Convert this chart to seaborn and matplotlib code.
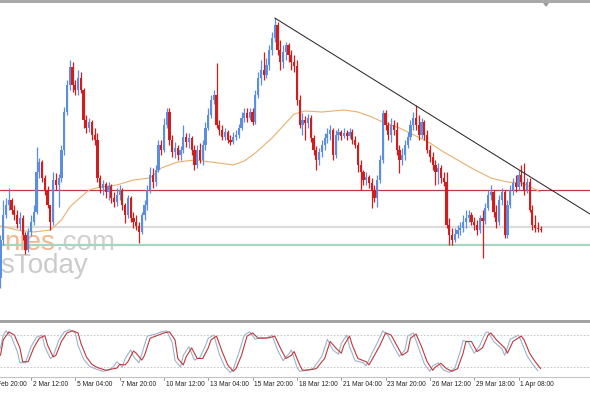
import numpy as np
import pandas as pd
import matplotlib
matplotlib.use("Agg")
import matplotlib.pyplot as plt
import seaborn as sns
from matplotlib.patches import Rectangle, Polygon
from matplotlib.transforms import blended_transform_factory

# ---------------- data (H4 candles, price in chart points) ----------------
first_open = 122
closes = [160, 185, 195, 200, 190, 185, 176, 182, 165, 150, 168, 178, 188, 228, 238, 222, 210, 195, 178, 220,
          215, 222, 250, 288, 315, 333, 315, 310, 322, 310, 280, 272, 278, 265, 260, 222, 212, 216, 208, 214,
          202, 198, 205, 210, 195, 185, 202, 182, 178, 174, 168, 185, 195, 210, 225, 218, 230, 255, 250, 275,
          288, 260, 248, 252, 245, 250, 263, 258, 262, 250, 235, 250, 240, 255, 272, 285, 300, 305, 275, 270,
          263, 268, 260, 258, 263, 265, 272, 282, 287, 282, 288, 278, 305, 322, 330, 325, 335, 350, 362, 375,
          350, 338, 348, 355, 345, 338, 334, 300, 275, 280, 277, 282, 262, 250, 240, 248, 255, 262, 266, 270,
          245, 265, 268, 264, 267, 264, 268, 260, 255, 235, 228, 220, 223, 217, 210, 202, 220, 240, 287, 275,
          265, 275, 270, 250, 240, 245, 255, 263, 275, 282, 275, 265, 278, 265, 250, 243, 235, 228, 232, 222,
          218, 175, 165, 160, 166, 170, 172, 178, 182, 185, 178, 175, 170, 182, 179, 192, 205, 208, 188, 178,
          200, 208, 165, 195, 210, 217, 213, 225, 218, 210, 218, 190, 175, 172, 171, 170]
highs = [165, 200, 202, 212, 202, 195, 190, 188, 185, 168, 172, 185, 195, 253, 242, 240, 225, 214, 195, 228,
         227, 226, 255, 293, 320, 340, 338, 320, 330, 328, 312, 285, 282, 280, 272, 267, 225, 220, 218, 218,
         216, 208, 212, 215, 212, 197, 205, 204, 188, 185, 178, 188, 200, 215, 233, 232, 235, 260, 260, 282,
         292, 292, 265, 258, 255, 254, 275, 267, 267, 264, 255, 255, 257, 260, 278, 292, 305, 310, 337, 280,
         275, 272, 270, 265, 268, 270, 276, 288, 292, 292, 292, 292, 310, 328, 340, 348, 342, 355, 368, 382,
         378, 360, 355, 358, 357, 350, 345, 340, 305, 287, 284, 286, 285, 265, 254, 252, 260, 267, 272, 275,
         272, 270, 272, 270, 272, 270, 272, 271, 264, 258, 240, 230, 228, 225, 222, 215, 225, 245, 290, 290,
         278, 282, 280, 278, 255, 252, 260, 268, 280, 288, 295, 285, 282, 280, 270, 255, 248, 240, 237, 235,
         228, 228, 182, 172, 172, 175, 178, 185, 190, 190, 188, 183, 180, 185, 190, 197, 210, 215, 210, 195,
         205, 212, 210, 200, 215, 222, 225, 230, 235, 237, 222, 222, 195, 185, 178, 174]
lows = [112, 155, 182, 190, 186, 180, 172, 170, 160, 146, 148, 164, 175, 186, 222, 218, 205, 192, 170, 175,
        210, 193, 218, 245, 285, 310, 308, 305, 305, 307, 272, 267, 268, 260, 255, 218, 207, 205, 202, 200,
        197, 193, 194, 200, 190, 177, 182, 178, 172, 170, 157, 166, 180, 190, 207, 212, 214, 228, 245, 248,
        272, 255, 243, 242, 240, 240, 247, 253, 252, 245, 230, 232, 237, 235, 250, 270, 282, 296, 272, 265,
        260, 260, 257, 255, 256, 260, 262, 270, 278, 278, 280, 275, 276, 302, 315, 320, 322, 330, 345, 358,
        345, 330, 332, 340, 338, 330, 328, 295, 272, 265, 260, 272, 258, 245, 230, 235, 243, 250, 257, 260,
        240, 242, 260, 260, 262, 260, 262, 256, 252, 228, 210, 215, 215, 212, 192, 198, 193, 217, 237, 270,
        260, 258, 265, 245, 227, 235, 240, 252, 260, 270, 270, 260, 262, 260, 247, 238, 230, 215, 216, 217,
        214, 172, 155, 155, 158, 162, 165, 168, 172, 178, 175, 170, 165, 167, 142, 176, 190, 200, 183, 172,
        175, 195, 162, 162, 192, 205, 208, 210, 214, 205, 207, 188, 170, 168, 168, 168]

# moving average read at sample bars
ma_bars = [0, 6, 12, 18, 22, 25, 29, 32, 36, 42, 48, 54, 58, 64, 70, 76, 84, 88, 92, 98, 103, 106, 110,
           116, 124, 129, 134, 138, 144, 150, 155, 160, 165, 170, 177, 183, 188, 192, 195]
ma_vals = [174, 170, 168, 170, 180, 193, 203, 210, 213, 215, 220, 222, 232, 238, 240, 238, 235, 239, 247,
           262, 277, 286, 289, 288, 290, 288, 283, 278, 272, 264, 257, 248, 240, 232, 222, 218, 217, 212, 208]

# horizontal levels and trend line
level_red = 210
level_gray = 173
level_green = 155
trend_bars = [99, 212.8]
trend_prices = [382, 186]

# stochastic oscillator (main and signal), read at sample bars
stoch_main_bars = [0, 1, 3, 5, 7, 8, 10, 12, 14, 16, 17, 19, 20, 22, 24, 26, 28, 29, 31, 33, 35, 38, 40, 42,
                   43, 45, 46, 48, 49, 51, 52, 54, 57, 59, 61, 63, 64, 66, 67, 69, 71, 73, 75, 76, 78, 80, 82,
                   84, 85, 87, 89, 91, 93, 95, 97, 99, 101, 103, 105, 106, 108, 109, 112, 114, 117, 119, 121,
                   123, 124, 126, 127, 129, 132, 133, 135, 137, 139, 141, 143, 145, 147, 148, 150, 152, 154,
                   156, 157, 159, 161, 163, 165, 167, 168, 170, 172, 174, 176, 177, 179, 182, 183, 185, 188,
                   189, 191, 193, 195]
stoch_main = [42, 71, 86, 80, 56, 30, 30, 56, 74, 79, 61, 39, 42, 68, 84, 88, 84, 65, 39, 25, 19, 14, 16, 18,
              25, 24, 30, 50, 46, 33, 42, 74, 80, 84, 86, 71, 36, 24, 39, 56, 36, 36, 56, 71, 78, 49, 24,
              12, 17, 42, 78, 84, 74, 74, 75, 78, 56, 36, 42, 49, 24, 14, 15, 17, 36, 68, 56,
              46, 61, 78, 61, 36, 30, 24, 42, 61, 84, 80, 61, 42, 49, 74, 82, 58, 30,
              14, 20, 27, 17, 12, 17, 46, 68, 68, 49, 56, 80, 84, 71, 56, 46, 68, 78,
              71, 46, 30, 17]
stoch_sig_bars = [0, 1, 2, 4, 6, 7, 9, 11, 13, 15, 16, 18, 19, 21, 23, 25, 27, 28, 30, 32, 34, 37, 39, 41,
                  42, 44, 45, 47, 48, 50, 51, 53, 56, 58, 60, 62, 63, 65, 66, 68, 70, 72, 74, 75, 77, 79, 81,
                  83, 84, 86, 88, 90, 92, 94, 96, 98, 100, 102, 104, 105, 107, 108, 111, 113, 116, 118, 120,
                  122, 123, 125, 126, 128, 131, 132, 134, 136, 138, 140, 142, 144, 146, 147, 149, 151, 153,
                  155, 156, 158, 160, 162, 164, 166, 167, 169, 171, 173, 175, 176, 178, 181, 182, 184, 187,
                  188, 190, 192, 194]
stoch_sig = [55, 80, 88, 76, 50, 28, 28, 58, 76, 80, 58, 36, 40, 70, 86, 90, 84, 60, 35, 22, 17, 12, 14, 22,
             30, 20, 36, 52, 40, 28, 45, 78, 82, 86, 88, 66, 32, 20, 42, 58, 33, 38, 60, 74, 80, 44, 20,
             10, 16, 46, 80, 86, 72, 76, 74, 80, 52, 32, 44, 52, 20, 12, 14, 18, 40, 72, 52,
             44, 64, 80, 58, 32, 28, 22, 45, 65, 88, 78, 58, 40, 52, 78, 84, 55, 26,
             12, 22, 28, 14, 10, 18, 50, 70, 66, 46, 60, 84, 86, 68, 54, 42, 72, 80,
             68, 42, 26, 13]
stoch_levels = [80, 20]

label_bars = [-5, 11, 27, 43, 59, 75, 91, 107, 123, 139, 155, 171, 187]
label_texts = ["28 Feb 20:00", "2 Mar 12:00", "5 Mar 04:00", "7 Mar 20:00", "10 Mar 12:00",
               "13 Mar 04:00", "15 Mar 20:00", "18 Mar 12:00", "21 Mar 04:00", "23 Mar 20:00",
               "26 Mar 12:00", "29 Mar 18:00", "1 Apr 08:00"]

# ---------------- build tables ----------------
df = pd.DataFrame({"close": closes, "high": highs, "low": lows})
df["open"] = [first_open] + closes[:-1]
df["bar"] = np.arange(len(df))
ma_df = pd.DataFrame({"bar": ma_bars, "ma": ma_vals})
st_main = pd.DataFrame({"bar": stoch_main_bars, "v": stoch_main})
st_sig = pd.DataFrame({"bar": stoch_sig_bars, "v": stoch_sig})

# ---------------- figure ----------------
sns.set_theme(style="white")
plt.rcParams["font.family"] = ["Liberation Sans", "DejaVu Sans"]

W, H = 590, 393
fig = plt.figure(figsize=(W / 100, H / 100), dpi=100)
fig.patch.set_facecolor("white")

ax = fig.add_axes([0, 74 / H, 1, 316 / H])
ax2 = fig.add_axes([0, 16 / H, 1, 54 / H])

xlim = (-0.18, 212.8)
BLUE = "#5b8de0"
RED = "#d41c1c"

# watermark
wm_kw = dict(transform=ax.transAxes, fontsize=20, va="baseline", zorder=1, clip_on=True)
ax.text(55 / W, (319 - 250) / 316, "nies", ha="right", color="#f4b68e", **wm_kw)
ax.text(55 / W, (319 - 250) / 316, ".com", ha="left", color="#d0d0d0", **wm_kw)
ax.text(0 / W, (319 - 273) / 316, "sToday", ha="left", color="#cbcbcb", **wm_kw)

# levels
ax.axhline(level_gray, color="#dcdcdc", lw=1.6, zorder=1.5)
ax.axhline(level_green, color="#a8d5c2", lw=1.6, zorder=1.5)
ax.axhline(level_red, color="#c4393d", lw=0.9, zorder=1.6)

# moving average
sns.lineplot(data=ma_df, x="bar", y="ma", ax=ax, color="#e8b06e", linewidth=0.8, zorder=2)

# candles
up = df["close"] >= df["open"]
cols = np.where(up, BLUE, RED)
bottoms = np.minimum(df["open"], df["close"])
heights = np.maximum((df["close"] - df["open"]).abs(), 0.9)
ax.vlines(df["bar"], df["low"], df["high"], colors=cols, lw=0.9, zorder=3)
ax.bar(df["bar"], heights, bottom=bottoms, width=0.8, color=cols, linewidth=0, zorder=4)

# trend line
ax.plot(trend_bars, trend_prices, color="#2a2a2a", lw=0.75, zorder=5)

ax.set_xlim(*xlim)
ax.set_ylim(81, 397)
ax.set_xticks([]); ax.set_yticks([])
ax.set_xlabel(""); ax.set_ylabel("")
for s in ax.spines.values():
    s.set_visible(False)

# stochastic
for lv in stoch_levels:
    ax2.axhline(lv, color="#bdbdbd", lw=0.6, ls=(0, (2, 2)), zorder=1)
sns.lineplot(data=st_sig, x="bar", y="v", ax=ax2, color="#9db3cb", linewidth=0.8, zorder=2)
sns.lineplot(data=st_main, x="bar", y="v", ax=ax2, color="#c0383c", linewidth=0.8, zorder=3)
ax2.set_xlim(*xlim)
ax2.set_ylim(1.3, 102.6)
ax2.set_xticks([]); ax2.set_yticks([])
ax2.set_xlabel(""); ax2.set_ylabel("")
for k, s in ax2.spines.items():
    s.set_visible(k == "bottom")
ax2.spines["bottom"].set_color("#c4c4c4")
ax2.spines["bottom"].set_linewidth(0.8)

# time labels and ticks
tr = blended_transform_factory(ax2.transData, fig.transFigure)
for b, t in zip(label_bars, label_texts):
    ax2.plot([b, b], [1 - 377 / H, 1 - 380 / H], transform=tr, color="#8a8a8a", lw=0.6, clip_on=False)
    ax2.text(b + 0.6, 1 - 381 / H, t, transform=tr, ha="left", va="top", fontsize=4.8,
             color="#222222", clip_on=False)

# frame bands
fig.add_artist(Rectangle((0, 1 - 3 / H), 1, 3 / H, transform=fig.transFigure, color="#a9a9a9", lw=0))
fig.add_artist(Rectangle((0, 1 - 323 / H), 1, 3 / H, transform=fig.transFigure, color="#a4a4a4", lw=0))
fig.add_artist(Polygon([[543 / W, 1 - 3 / H], [549 / W, 1 - 3 / H], [546 / W, 1 - 7 / H]],
                       closed=True, transform=fig.transFigure, color="#9a9a9a", lw=0))

fig.savefig("out.png", dpi=100, facecolor="white")
